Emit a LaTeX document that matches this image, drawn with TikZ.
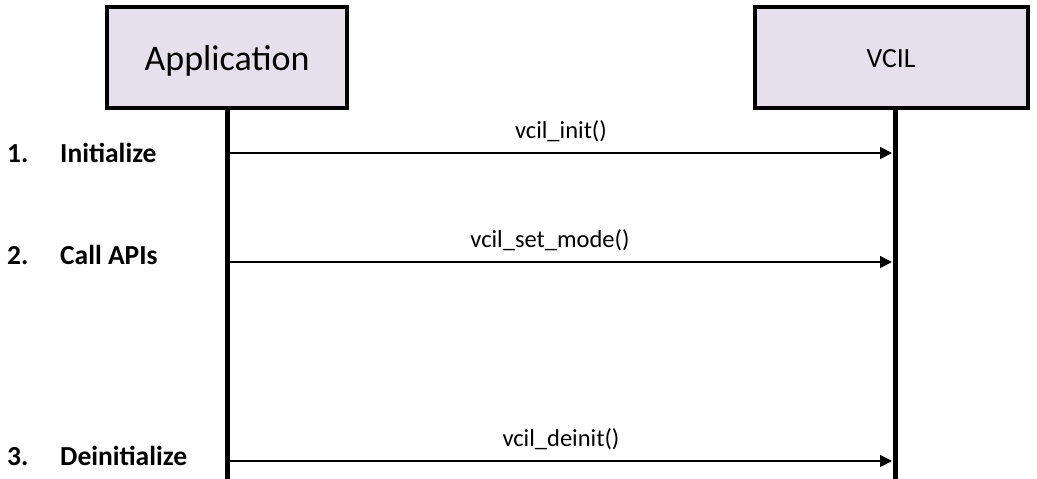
\documentclass[tikz,border=0pt]{standalone}
\usepackage{fontspec}
\setmainfont{Carlito}
\usetikzlibrary{arrows.meta,positioning}
\definecolor{actorfill}{RGB}{229,224,236}
\tikzset{
  actor/.style={draw=black, line width=4pt, fill=actorfill, inner sep=0pt, text depth=0pt},
  lifeline/.style={line width=5.5pt},
  call/.style={line width=1.8pt, -{Triangle[length=12pt,width=12pt]}},
  calllabel/.style={anchor=base, font=\fontsize{24.5}{28}\selectfont},
  stepnum/.style={anchor=base west, inner sep=0pt, font=\bfseries\fontsize{27.5}{31}\selectfont},
}
\begin{document}
\begin{tikzpicture}[x=1pt, y=-1pt]
  \useasboundingbox (0,0) rectangle (1037,479);

  % --- participants ---
  \node[actor, minimum width=240pt, minimum height=101pt, text height=25pt,
        font=\fontsize{36}{40}\selectfont] (app) at (227,57.5) {Application};
  \node[actor, minimum width=273pt, minimum height=100.5pt, text height=19pt,
        font=\fontsize{27.7}{31}\selectfont] (vcil) at (891,57.5) {VCIL};

  % --- lifelines ---
  \coordinate (appTop)  at (227.5,108);
  \coordinate (appBot)  at (227.5,479);
  \coordinate (vcilTop) at (895.5,108);
  \coordinate (vcilBot) at (895.5,479);
  \draw[lifeline] (appTop) -- (appBot);
  \draw[lifeline] (vcilTop) -- (vcilBot);

  % --- calls ---
  \foreach \y/\name/\lab/\dx in {153/init/vcil\_init()/0,
                                 262/mode/vcil\_set\_mode()/-11,
                                 461/deinit/vcil\_deinit()/0}{
    \coordinate (\name A) at (230,\y);
    \coordinate (\name B) at (892,\y);
    \draw[call] (\name A) -- (\name B)
      node[calllabel, midway, xshift=\dx pt, yshift=15pt] (\name L) {\lab};
  }

  % --- steps ---
  \foreach \y/\num/\txt in {162/1./Initialize, 264/2./Call APIs, 465/3./Deinitialize}{
    \node[stepnum] (n\num) at (7,\y) {\num};
    \node[stepnum] (t\num) at (60,\y) {\txt};
  }
\end{tikzpicture}
\end{document}
